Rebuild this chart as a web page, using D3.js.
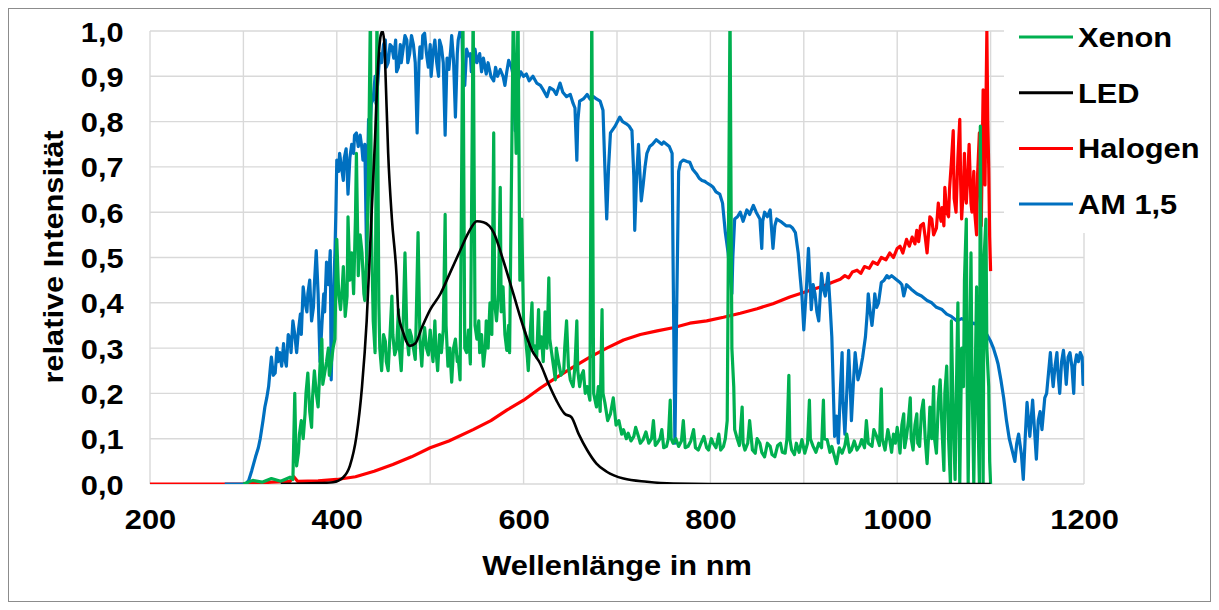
<!DOCTYPE html>
<html>
<head>
<meta charset="utf-8">
<script src="https://cdn.jsdelivr.net/npm/d3@7"></script>
<style>
  body { margin: 0; background: #fff; }
  text { font-family: "Liberation Sans", Arial, sans-serif; font-weight: bold; fill: #000; }
</style>
</head>
<body>
<svg id="chart" width="1219" height="610"></svg>
<script>
// tick values
const xTicks = [200, 400, 600, 800, 1000, 1200];
const xGrid = [200, 300, 400, 500, 600, 700, 800, 900, 1000, 1100, 1200];
const yTicks = [0, 0.1, 0.2, 0.3, 0.4, 0.5, 0.6, 0.7, 0.8, 0.9, 1.0];

// spectra: [wavelength nm, relative intensity]
const xenon = [[300,0],[310,0.008],[320,0.004],[330,0.012],[340,0.006],[350,0.015],[353,0.01],[355,0.2],[356,0.09],[357,0.04],
  [359,0.07],[360,0.11],[362,0.14],[364,0.1],[366,0.155],[367,0.2],[369,0.245],[371,0.16],[373,0.125],[374,0.19],
  [376,0.25],[378,0.2],[380,0.17],[382,0.26],[384,0.32],[385,0.22],[387,0.245],[389,0.27],[391,0.3],[392,0.24],
  [394,0.265],[396,0.3],[398,0.32],[399,0.45],[400,0.54],[402,0.42],[404,0.385],[406,0.44],[407,0.48],[409,0.37],
  [411,0.415],[412,0.59],[414,0.45],[416,0.51],[418,0.42],[420,0.59],[421,0.73],[423,0.46],[425,0.55],[427,0.51],
  [429,0.42],[430,0.405],[432,0.5],[434,0.695],[436,1.05],[437,0.57],[439,0.36],[441,0.29],[443,1.05],[445,0.4],
  [446,0.3],[448,0.25],[450,0.33],[452,0.315],[453,0.27],[455,0.25],[457,0.33],[459,0.415],[460,0.33],[462,0.285],
  [464,0.3],[466,0.385],[467,0.3],[469,0.25],[471,0.35],[473,0.51],[475,0.33],[477,0.285],[478,0.34],[480,0.325],
  [482,0.3],[484,0.275],[485,0.36],[487,0.555],[489,0.32],[491,0.26],[492,0.3],[494,0.345],[496,0.3],[498,0.285],
  [500,0.34],[501,0.31],[503,0.27],[505,0.36],[506,0.3],[508,0.25],[510,0.33],[512,0.29],[514,0.34],[516,0.595],
  [517,0.35],[519,0.26],[521,0.3],[523,0.225],[525,0.3],[527,0.32],[529,0.27],[530,0.28],[532,0.23],[535,1.05],
  [537,0.3],[539,0.29],[541,0.34],[543,0.265],[546,1.05],[548,0.35],[550,0.32],[552,0.36],[553,0.29],[555,0.33],
  [557,0.26],[559,0.3],[560,0.36],[562,0.3],[564,0.4],[566,0.33],[568,0.775],[569,0.4],[571,0.36],[573,0.42],
  [575,0.655],[576,0.38],[578,0.435],[580,0.33],[582,0.295],[584,0.35],[585,0.29],[589,1.05],[592,0.73],[594,1.05],
  [596,0.45],[598,0.585],[600,0.35],[602,0.325],[604,0.28],[605,0.25],[607,0.33],[609,0.4],[610,0.3],[612,0.305],
  [614,0.28],[616,0.385],[617,0.3],[619,0.325],[621,0.27],[623,0.38],[625,0.3],[627,0.455],[628,0.32],[630,0.29],
  [632,0.26],[634,0.23],[635,0.3],[637,0.275],[640,0.24],[643,0.25],[644,0.3],[646,0.36],[648,0.26],[650,0.23],
  [653,0.215],[655,0.26],[657,0.36],[658,0.25],[660,0.215],[662,0.24],[664,0.25],[666,0.2],[668,0.215],[671,0.185],
  [673,1.05],[675,0.2],[678,0.17],[680,0.215],[682,0.16],[684,0.385],[685,0.2],[687,0.18],[690,0.14],[693,0.155],
  [696,0.19],[699,0.13],[702,0.14],[705,0.11],[707,0.12],[710,0.1],[712,0.112],[715,0.095],[718,0.105],[720,0.125],
  [723,0.105],[725,0.09],[728,0.098],[731,0.115],[734,0.09],[737,0.1],[739,0.14],[741,0.085],[743,0.09],[746,0.1],
  [748,0.12],[750,0.08],[753,0.083],[755,0.1],[757,0.185],[758,0.1],[760,0.09],[763,0.1],[766,0.083],[769,0.095],
  [771,0.14],[773,0.08],[776,0.083],[779,0.095],[782,0.12],[784,0.08],[787,0.075],[790,0.09],[793,0.105],[796,0.08],
  [798,0.075],[801,0.1],[803,0.09],[806,0.08],[809,0.11],[811,0.075],[814,0.083],[816,0.1],[818,0.14],[821,1.05],
  [823,0.3],[825,0.215],[826,0.12],[828,0.105],[831,0.085],[834,0.17],[835,0.09],[837,0.075],[840,0.09],[842,0.14],
  [845,0.075],[848,0.068],[850,0.1],[853,0.09],[855,0.07],[858,0.06],[861,0.09],[864,0.083],[866,0.065],[869,0.06],
  [872,0.085],[875,0.09],[877,0.07],[880,0.068],[882,0.1],[884,0.24],[885,0.1],[887,0.075],[890,0.065],[892,0.09],
  [895,0.07],[898,0.098],[901,0.068],[904,0.09],[906,0.185],[907,0.1],[910,0.083],[913,0.07],[916,0.09],[919,0.08],
  [921,0.185],[922,0.1],[925,0.098],[928,0.07],[930,0.083],[933,0.06],[935,0.045],[938,0.08],[941,0.068],[944,0.085],
  [946,0.11],[949,0.07],[951,0.075],[954,0.095],[957,0.075],[960,0.085],[962,0.098],[965,0.08],[967,0.14],[969,0.09],
  [973,0.083],[975,0.12],[978,0.105],[981,0.085],[983,0.21],[984,0.1],[987,0.075],[990,0.12],[992,0.098],[994,0.07],
  [996,0.11],[998,0.09],[1000,0.125],[1002,0.09],[1003,0.068],[1005,0.13],[1007,0.155],[1008,0.08],[1010,0.105],[1012,0.14],
  [1014,0.19],[1015,0.1],[1017,0.075],[1019,0.13],[1021,0.155],[1022,0.09],[1024,0.083],[1026,0.16],[1028,0.185],[1030,0.1],
  [1032,0.045],[1034,0.12],[1035,0.17],[1037,0.1],[1039,0.215],[1040,0.1],[1042,0.068],[1044,0.18],[1046,0.23],[1048,0.12],
  [1050,0.03],[1051,0.2],[1053,0.26],[1055,0.1],[1057,0],[1058,0.36],[1060,0.15],[1062,0.01],[1064,0.29],[1065,0.4],
  [1067,0],[1069,0.3],[1071,0.215],[1072,0.45],[1074,0.585],[1075,0.2],[1076,0],[1078,0.35],[1079,0.51],[1080,0.25],
  [1082,0],[1084,0.3],[1085,0.435],[1086,0.2],[1088,0],[1089,0.79],[1090,0.4],[1092,0],[1093,0.5],[1095,0.585],
  [1096,0.3],[1098,0.215],[1099,0.05],[1100,0]];

const led = [[340,0],[380,0.002],[396,0.004],[407,0.015],[414,0.04],[421,0.105],[427,0.215],[432,0.36],[437,0.585],[441,0.765],
  [444,0.915],[447,0.99],[449,1.0],[451,0.97],[452,0.915],[455,0.73],[459,0.585],[464,0.46],[466,0.375],[471,0.335],
  [478,0.305],[484,0.31],[491,0.345],[500,0.385],[511,0.42],[521,0.465],[532,0.515],[541,0.555],[550,0.58],[557,0.578],
  [568,0.555],[578,0.495],[589,0.42],[600,0.345],[609,0.295],[618,0.265],[627,0.22],[635,0.185],[644,0.155],[651,0.148],
  [659,0.11],[668,0.075],[678,0.045],[689,0.027],[707,0.012],[732,0.005],[760,0.001],[800,0],[1100,0]];

const halogen = [[200,0],[300,0],[330,0.004],[350,0.006],[354,0.016],[358,0.006],[380,0.007],[400,0.01],[420,0.016],[440,0.028],
  [460,0.043],[480,0.06],[500,0.08],[520,0.095],[546,0.12],[565,0.14],[582,0.163],[600,0.185],[618,0.212],[635,0.235],
  [653,0.258],[671,0.28],[689,0.3],[707,0.318],[725,0.33],[743,0.338],[760,0.345],[778,0.355],[796,0.36],[814,0.368],
  [832,0.377],[850,0.387],[867,0.398],[885,0.413],[903,0.425],[921,0.437],[930,0.445],[939,0.452],[944,0.46],[948,0.455],
  [952,0.468],[957,0.472],[961,0.465],[965,0.48],[970,0.476],[974,0.49],[979,0.485],[983,0.5],[988,0.495],[992,0.51],
  [996,0.5],[1000,0.52],[1003,0.525],[1006,0.51],[1010,0.54],[1013,0.525],[1016,0.545],[1019,0.53],[1021,0.56],[1023,0.535],
  [1025,0.57],[1028,0.575],[1030,0.545],[1032,0.51],[1035,0.59],[1037,0.585],[1039,0.55],[1042,0.565],[1044,0.62],[1045,0.6],
  [1047,0.58],[1048,0.61],[1050,0.57],[1051,0.655],[1053,0.6],[1055,0.59],[1056,0.65],[1058,0.71],[1060,0.78],[1061,0.63],
  [1063,0.6],[1065,0.72],[1067,0.805],[1068,0.66],[1069,0.585],[1071,0.66],[1072,0.73],[1073,0.64],[1074,0.62],[1076,0.7],
  [1077,0.75],[1079,0.62],[1080,0.6],[1082,0.69],[1083,0.6],[1085,0.55],[1086,0.68],[1088,0.775],[1089,0.64],[1090,0.57],
  [1092,0.87],[1093,0.7],[1094,0.66],[1096,1.0],[1097,0.8],[1098,0.7],[1099,0.545],[1100,0.47]];

const am15 = [[280,0],[303,0],[306,0.01],[309,0.03],[311,0.045],[313,0.06],[316,0.08],[318,0.1],[321,0.14],[323,0.17],
  [325,0.19],[327,0.215],[329,0.26],[330,0.28],[332,0.24],[334,0.245],[336,0.3],[337,0.27],[339,0.29],[341,0.26],
  [343,0.31],[344,0.28],[346,0.26],[348,0.33],[350,0.32],[351,0.29],[353,0.36],[355,0.33],[357,0.29],[359,0.34],
  [361,0.375],[362,0.33],[364,0.435],[366,0.4],[368,0.38],[369,0.42],[371,0.45],[373,0.36],[375,0.39],[376,0.44],
  [378,0.515],[380,0.42],[382,0.27],[384,0.35],[386,0.42],[387,0.38],[389,0.49],[391,0.44],[393,0.515],[394,0.23],
  [396,0.4],[398,0.51],[399,0.6],[400,0.715],[402,0.69],[403,0.73],[405,0.7],[407,0.67],[408,0.72],[410,0.74],
  [412,0.64],[414,0.72],[416,0.75],[418,0.73],[419,0.77],[421,0.775],[423,0.745],[425,0.77],[427,0.74],[428,0.715],
  [430,0.75],[432,0.49],[433,0.7],[434,0.805],[436,0.8],[437,0.84],[439,0.85],[441,0.9],[442,0.84],[444,0.89],
  [446,0.95],[448,0.93],[450,0.97],[452,0.98],[453,0.92],[455,0.93],[457,0.97],[459,0.965],[461,0.94],[463,0.98],
  [464,0.91],[466,0.92],[468,0.97],[469,0.93],[471,0.96],[473,0.99],[475,0.98],[476,0.93],[478,0.95],[480,0.99],
  [482,0.97],[484,0.93],[486,0.775],[488,0.93],[489,0.965],[491,0.94],[492,0.99],[494,0.995],[496,0.95],[498,0.92],
  [500,0.97],[501,0.9],[503,0.95],[505,0.98],[507,0.93],[509,0.9],[510,0.98],[512,0.965],[514,0.93],[516,0.77],
  [518,0.94],[520,0.915],[522,0.96],[523,0.99],[525,0.935],[527,0.81],[529,0.95],[530,0.98],[532,1.0],[534,0.995],
  [535,0.9],[537,0.88],[539,0.96],[541,0.945],[543,0.95],[544,0.91],[546,0.92],[548,0.96],[550,0.93],[553,0.95],
  [555,0.91],[557,0.94],[560,0.905],[562,0.93],[565,0.9],[568,0.89],[570,0.92],[572,0.9],[575,0.915],[578,0.9],
  [580,0.88],[582,0.91],[584,0.935],[587,0.92],[589,0.9],[591,0.78],[592,0.87],[594,0.89],[597,0.91],[600,0.9],
  [603,0.905],[606,0.89],[610,0.9],[614,0.885],[618,0.88],[621,0.87],[625,0.855],[628,0.875],[632,0.87],[635,0.86],
  [639,0.885],[642,0.865],[646,0.855],[650,0.86],[653,0.84],[655,0.83],[657,0.715],[658,0.8],[660,0.845],[664,0.85],
  [668,0.86],[671,0.85],[675,0.855],[678,0.85],[682,0.845],[685,0.825],[687,0.7],[689,0.585],[691,0.7],[693,0.775],
  [698,0.79],[703,0.81],[706,0.8],[710,0.795],[713,0.79],[716,0.78],[718,0.68],[719,0.56],[721,0.68],[723,0.75],
  [726,0.625],[728,0.66],[730,0.7],[732,0.73],[735,0.745],[738,0.75],[742,0.76],[745,0.755],[748,0.75],[750,0.755],
  [753,0.75],[756,0.745],[759,0.73],[760,0.5],[762,0.09],[764,0.4],[766,0.69],[768,0.71],[771,0.715],[775,0.712],
  [778,0.71],[781,0.695],[785,0.685],[788,0.675],[791,0.67],[794,0.668],[796,0.665],[800,0.66],[803,0.655],[806,0.645],
  [810,0.64],[813,0.62],[816,0.555],[819,0.51],[821,0.46],[823,0.42],[824,0.5],[826,0.585],[829,0.59],[832,0.6],
  [835,0.58],[839,0.605],[842,0.595],[846,0.615],[849,0.6],[853,0.585],[855,0.52],[856,0.58],[858,0.6],[861,0.59],
  [864,0.605],[867,0.52],[869,0.57],[871,0.585],[875,0.58],[878,0.575],[881,0.57],[885,0.57],[888,0.565],[891,0.555],
  [894,0.51],[896,0.46],[898,0.415],[900,0.34],[903,0.44],[905,0.52],[908,0.385],[910,0.44],[912,0.42],[914,0.38],
  [916,0.36],[919,0.465],[921,0.43],[923,0.415],[926,0.465],[928,0.4],[930,0.325],[933,0.105],[935,0.15],[937,0.09],
  [939,0.2],[941,0.29],[942,0.18],[944,0.11],[946,0.2],[948,0.295],[950,0.2],[951,0.14],[953,0.22],[955,0.29],
  [958,0.23],[960,0.245],[963,0.28],[966,0.325],[968,0.38],[969,0.42],[971,0.38],[973,0.35],[975,0.39],[976,0.42],
  [978,0.39],[980,0.4],[983,0.445],[986,0.45],[989,0.46],[991,0.455],[994,0.46],[997,0.455],[1000,0.45],[1003,0.445],
  [1005,0.44],[1007,0.415],[1010,0.44],[1015,0.43],[1021,0.42],[1026,0.415],[1032,0.405],[1037,0.4],[1042,0.39],[1048,0.385],
  [1053,0.375],[1058,0.37],[1064,0.36],[1069,0.365],[1074,0.36],[1078,0.35],[1082,0.355],[1086,0.35],[1089,0.345],[1093,0.34],
  [1096,0.33],[1100,0.315],[1103,0.3],[1106,0.28],[1108,0.265],[1111,0.23],[1114,0.19],[1117,0.14],[1120,0.1],[1123,0.075],
  [1126,0.05],[1128,0.09],[1130,0.11],[1133,0.065],[1135,0.01],[1137,0.1],[1139,0.18],[1142,0.105],[1145,0.185],[1147,0.12],
  [1149,0.055],[1151,0.14],[1153,0.16],[1155,0.12],[1158,0.19],[1160,0.2],[1162,0.245],[1164,0.29],[1165,0.26],[1167,0.215],
  [1169,0.26],[1171,0.29],[1172,0.25],[1174,0.2],[1176,0.27],[1178,0.295],[1180,0.25],[1181,0.22],[1183,0.28],[1185,0.29],
  [1187,0.26],[1189,0.2],[1190,0.26],[1192,0.285],[1194,0.27],[1196,0.29],[1198,0.28],[1199,0.22],[1200,0.25]];

const legendNames = ["Xenon", "LED", "Halogen", "AM 1,5"];
const colors = { "Xenon": "#00B050", "LED": "#000000", "Halogen": "#FF0000", "AM 1,5": "#0070C0" };

const plot = { left: 150, right: 1084, top: 31, bottom: 484 };
const stretch = "scale(1.1,1)";

const svg = d3.select("#chart");
const x = d3.scaleLinear().domain([200, 1200]).range([plot.left, plot.right]);
const y = d3.scaleLinear().domain([0, 1]).range([plot.bottom, plot.top]);

// grid
const grid = svg.append("g").attr("stroke", "#d9d9d9").attr("stroke-width", 1.4);
grid.selectAll(".v").data(xGrid).enter().append("line")
  .attr("x1", d => x(d)).attr("x2", d => x(d))
  .attr("y1", plot.top).attr("y2", plot.bottom);
grid.selectAll(".h").data(yTicks).enter().append("line")
  .attr("x1", plot.left).attr("x2", plot.right)
  .attr("y1", d => y(d)).attr("y2", d => y(d));

// axes (labels only)
const fmt = d => d3.format(".1f")(d).replace(".", ",");
const xAxis = svg.append("g").attr("transform", "translate(0," + plot.bottom + ")")
  .call(d3.axisBottom(x).tickValues(xTicks).tickFormat(d3.format("d")).tickSize(0).tickPadding(25));
const yAxis = svg.append("g").attr("transform", "translate(" + plot.left + ",0)")
  .call(d3.axisLeft(y).tickValues(yTicks).tickFormat(fmt).tickSize(0).tickPadding(24));
[xAxis, yAxis].forEach(a => {
  a.select(".domain").remove();
  a.selectAll("text").attr("font-size", 28).attr("font-family", null).attr("transform", stretch);
});
yAxis.selectAll("text").attr("dy", "0.36em");

// series
svg.append("clipPath").attr("id", "clip").append("rect")
  .attr("x", plot.left).attr("y", plot.top)
  .attr("width", plot.right - plot.left).attr("height", plot.bottom - plot.top);

const line = d3.line().x(d => x(d[0])).y(d => y(d[1]));
const series = [
  { name: "Halogen", data: halogen, w: 3.2, curve: d3.curveLinear },
  { name: "AM 1,5", data: am15, w: 3.2, curve: d3.curveLinear },
  { name: "Xenon", data: xenon, w: 3.2, curve: d3.curveLinear },
  { name: "LED", data: led, w: 2.6, curve: d3.curveMonotoneX }
];
const lines = svg.append("g").attr("clip-path", "url(#clip)");
series.forEach(s => {
  lines.append("path")
    .attr("d", line.curve(s.curve)(s.data))
    .attr("fill", "none")
    .attr("stroke", colors[s.name])
    .attr("stroke-width", s.w)
    .attr("stroke-linejoin", "round");
});

// legend
svg.append("rect").attr("x", 1004).attr("y", 10).attr("width", 215).attr("height", 223).attr("fill", "#fff");
const leg = svg.append("g").selectAll("g").data(legendNames).enter().append("g")
  .attr("transform", (d, i) => "translate(1019," + (37 + i * 55.7) + ")");
leg.append("line").attr("x1", 0).attr("x2", 54).attr("y1", 0).attr("y2", 0)
  .attr("stroke", d => colors[d]).attr("stroke-width", 3);
leg.append("text").attr("transform", "translate(59,10) " + stretch)
  .attr("font-size", 28).text(d => d);

// axis titles
svg.append("text").attr("transform", "translate(617,575) " + stretch)
  .attr("text-anchor", "middle").attr("font-size", 28).text("Wellenlänge in nm");
svg.append("text").attr("transform", "translate(63,257) rotate(-90) " + stretch)
  .attr("text-anchor", "middle").attr("font-size", 28).text("relative Intensität");

// outer border
svg.append("rect").attr("x", 8.5).attr("y", 8.5).attr("width", 1202).attr("height", 593)
  .attr("fill", "none").attr("stroke", "#8c8c8c").attr("stroke-width", 1);
</script>
</body>
</html>
